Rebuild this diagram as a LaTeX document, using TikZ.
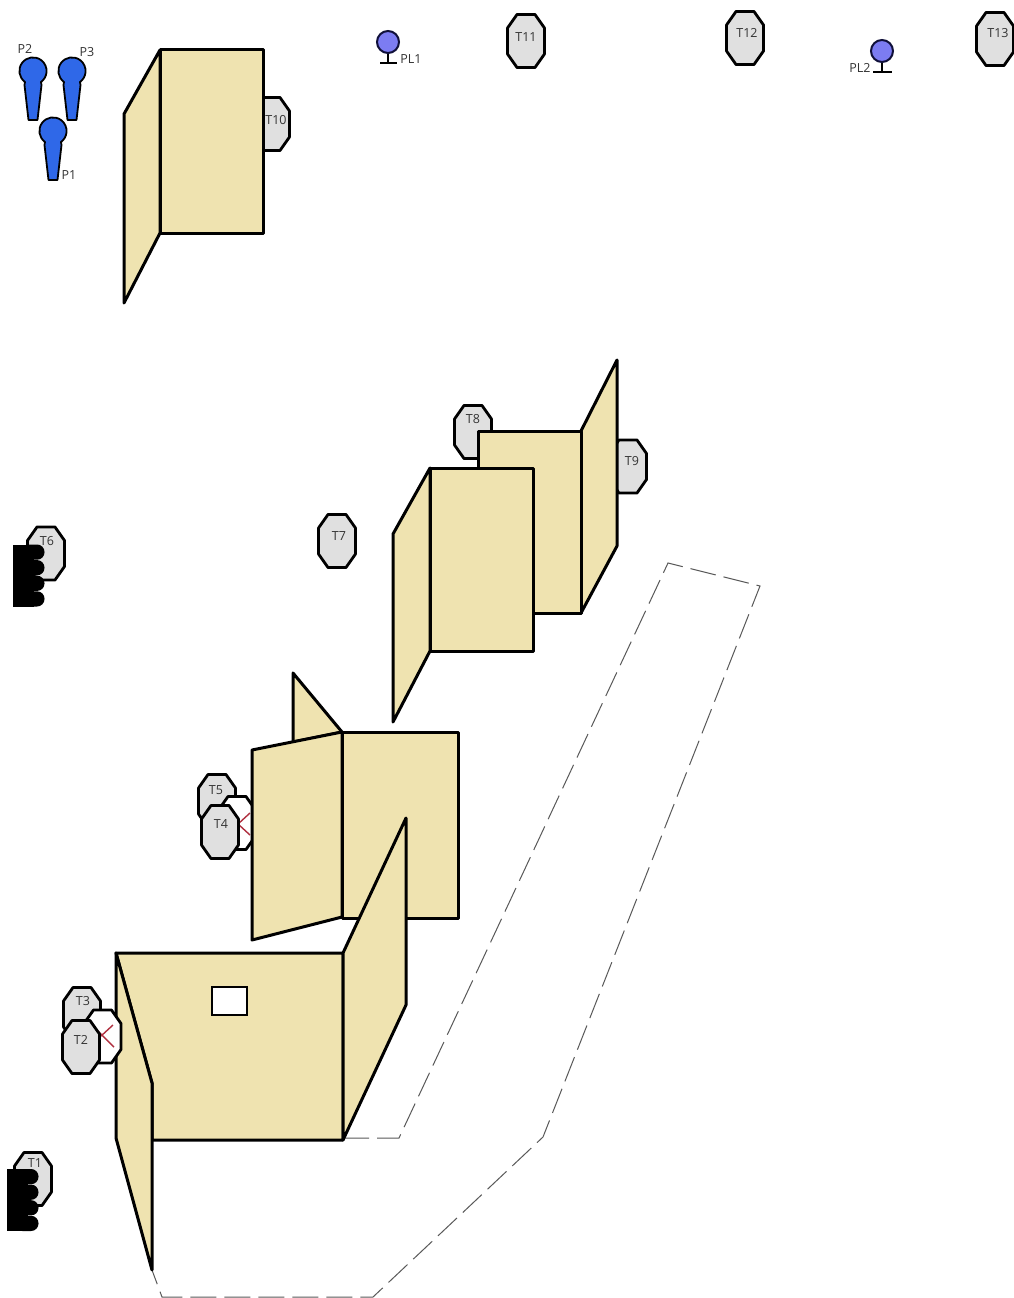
\documentclass[tikz,border=0pt]{standalone}
\usepackage{fontspec}
\setmainfont{Open Sans}
\definecolor{wall}{HTML}{EFE3B0}
\definecolor{octfill}{HTML}{E0E0E0}
\definecolor{pawn}{HTML}{2F68E8}
\definecolor{lamp}{HTML}{7C7CF2}
\definecolor{lampline}{HTML}{10103A}
\definecolor{cross}{HTML}{B03040}
\definecolor{txt}{HTML}{333333}
\tikzset{
  wallshape/.style={draw=black,fill=wall,line width=3pt,line join=round},
  octshape/.style={draw=black,fill=octfill,line width=2.8pt,line join=round},
  octwhite/.style={draw=black,fill=white,line width=2.8pt,line join=round},
  crossline/.style={draw=cross,line width=1.4pt},
  lbl/.style={font=\fontsize{12.5}{13}\selectfont,text=txt,inner sep=0pt},
  route/.style={draw=black!65,line width=1pt,dash pattern=on 26pt off 8pt},
  pawnshape/.style={draw=black,fill=pawn,line width=1.8pt,line join=round},
  lampshape/.style={draw=lampline,fill=lamp,line width=2pt},
  lampbase/.style={draw=black,line width=2pt},
  hand/.style={fill=black,draw=none}
}
% octagon: centre x, centre y, style
\newcommand{\octa}[3]{%
  \path[#3] (#1-9,#2-26.5) -- (#1+9,#2-26.5) -- (#1+18.5,#2-13) -- (#1+18.5,#2+13)
    -- (#1+9,#2+26.5) -- (#1-9,#2+26.5) -- (#1-18.5,#2+13) -- (#1-18.5,#2-13) -- cycle;}
\newcommand{\pawnfig}[2]{%
  \path[pawnshape] (#1-8,#2+11) arc[start angle=126,end angle=414,radius=13.6]
    -- (#1+8.5,#2+14) -- (#1+4.5,#2+49) -- (#1-4.5,#2+49) -- (#1-8.5,#2+14) -- cycle;}
\newcommand{\handfig}[2]{%
  \fill[hand] (#1,#2) rectangle (#1+21,#2+62);
  \foreach \k in {0,1,2,3}{
    \fill[hand,rounded corners=7.4pt] (#1+8,#2+\k*15.6+0) rectangle (#1+31.5,#2+\k*15.6+15.2);}
}
\begin{document}
\begin{tikzpicture}[x=1pt,y=-1pt]
\useasboundingbox[fill=white] (0,0) rectangle (1014,1298);

% route
\draw[route] (343,1138) -- (399,1138) -- (668,563) -- (760,586) -- (543,1137) -- (373,1297) -- (162,1297) -- (152,1270);

% top-row targets
\octa{526}{41}{octshape}\node[lbl] (t11) at (526,37) {T11};
\octa{745}{38}{octshape}\node[lbl] (t12) at (747,33) {T12};
\octa{995}{39}{octshape}\node[lbl] (t13) at (998,33) {T13};

% pawns
\pawnfig{33}{71}\pawnfig{72}{71}\pawnfig{53}{131}
\node[lbl] (p2) at (25,49) {P2};
\node[lbl] (p3) at (87,52) {P3};
\node[lbl] (p1) at (69,175) {P1};

% lamps
\draw[lampbase] (388,53) -- (388,63) (380,63) -- (397,63);
\draw[lampshape] (388,42) circle[radius=11];
\node[lbl] (pl1) at (411,59) {PL1};
\draw[lampbase] (882,62) -- (882,72) (873,72) -- (892,72);
\draw[lampshape] (882,51) circle[radius=11];
\node[lbl] (pl2) at (860,68) {PL2};

% T10 and top-left wall
\octa{271}{124}{octshape}\node[lbl] (t10) at (276,120) {T10};
\draw[wallshape] (160,50) -- (124,114) -- (124,303) -- (160,233) -- cycle;
\draw[wallshape] (160,50) rectangle (263,233);

% T6 and T1 with hands
\octa{46}{553.5}{octshape}\node[lbl] (t6) at (47,541) {T6};
\handfig{13}{544.5}
\octa{33}{1179}{octshape}\node[lbl] (t1) at (35,1163) {T1};
\handfig{7}{1169}

% T7
\octa{337}{541}{octshape}\node[lbl] (t7) at (339,536) {T7};

% upper wall group
\octa{473}{432}{octshape}\node[lbl] (t8) at (473,419) {T8};
\octa{628}{466.5}{octshape}\node[lbl] (t9) at (632,461) {T9};
\draw[wallshape] (581,431) -- (617,360) -- (617,546) -- (581,613) -- cycle;
\draw[wallshape] (478,431) rectangle (581,613);
\draw[wallshape] (430,468) -- (393,534) -- (393,722) -- (430,651) -- cycle;
\draw[wallshape] (430,468) rectangle (533,651);

% T5, T4 group
\octa{217}{801}{octshape}\node[lbl] (t5) at (216,790) {T5};
\octa{237}{823}{octwhite}
\draw[crossline] (250,813) -- (238,824) -- (250,835);
\octa{220}{832}{octshape}\node[lbl] (t4) at (221,824) {T4};

% middle wall
\draw[wallshape] (293,673) -- (342,732) -- (293,742) -- cycle;
\draw[wallshape] (342,732) rectangle (458,918);
\draw[wallshape] (252,750) -- (342,732) -- (342,917) -- (252,940) -- cycle;

% front wall
\draw[wallshape] (116,953) -- (343,953) -- (343,1140) -- (152,1140) -- (152,1083) -- cycle;
\draw[wallshape] (343,953) -- (406,818) -- (406,1005) -- (343,1140) -- cycle;
\draw[wallshape] (116,953) -- (152,1083) -- (152,1270) -- (116,1138) -- cycle;
\draw[draw=black,fill=white,line width=2.4pt] (212,987) rectangle (247,1015);

% T3, T2 group
\octa{82}{1014}{octshape}\node[lbl] (t3) at (83,1001) {T3};
\octa{102.5}{1036.5}{octwhite}
\draw[crossline] (113,1025) -- (101,1036) (95,1028) -- (114,1047);
\octa{81}{1047}{octshape}\node[lbl] (t2) at (81,1040) {T2};
\end{tikzpicture}
\end{document}
